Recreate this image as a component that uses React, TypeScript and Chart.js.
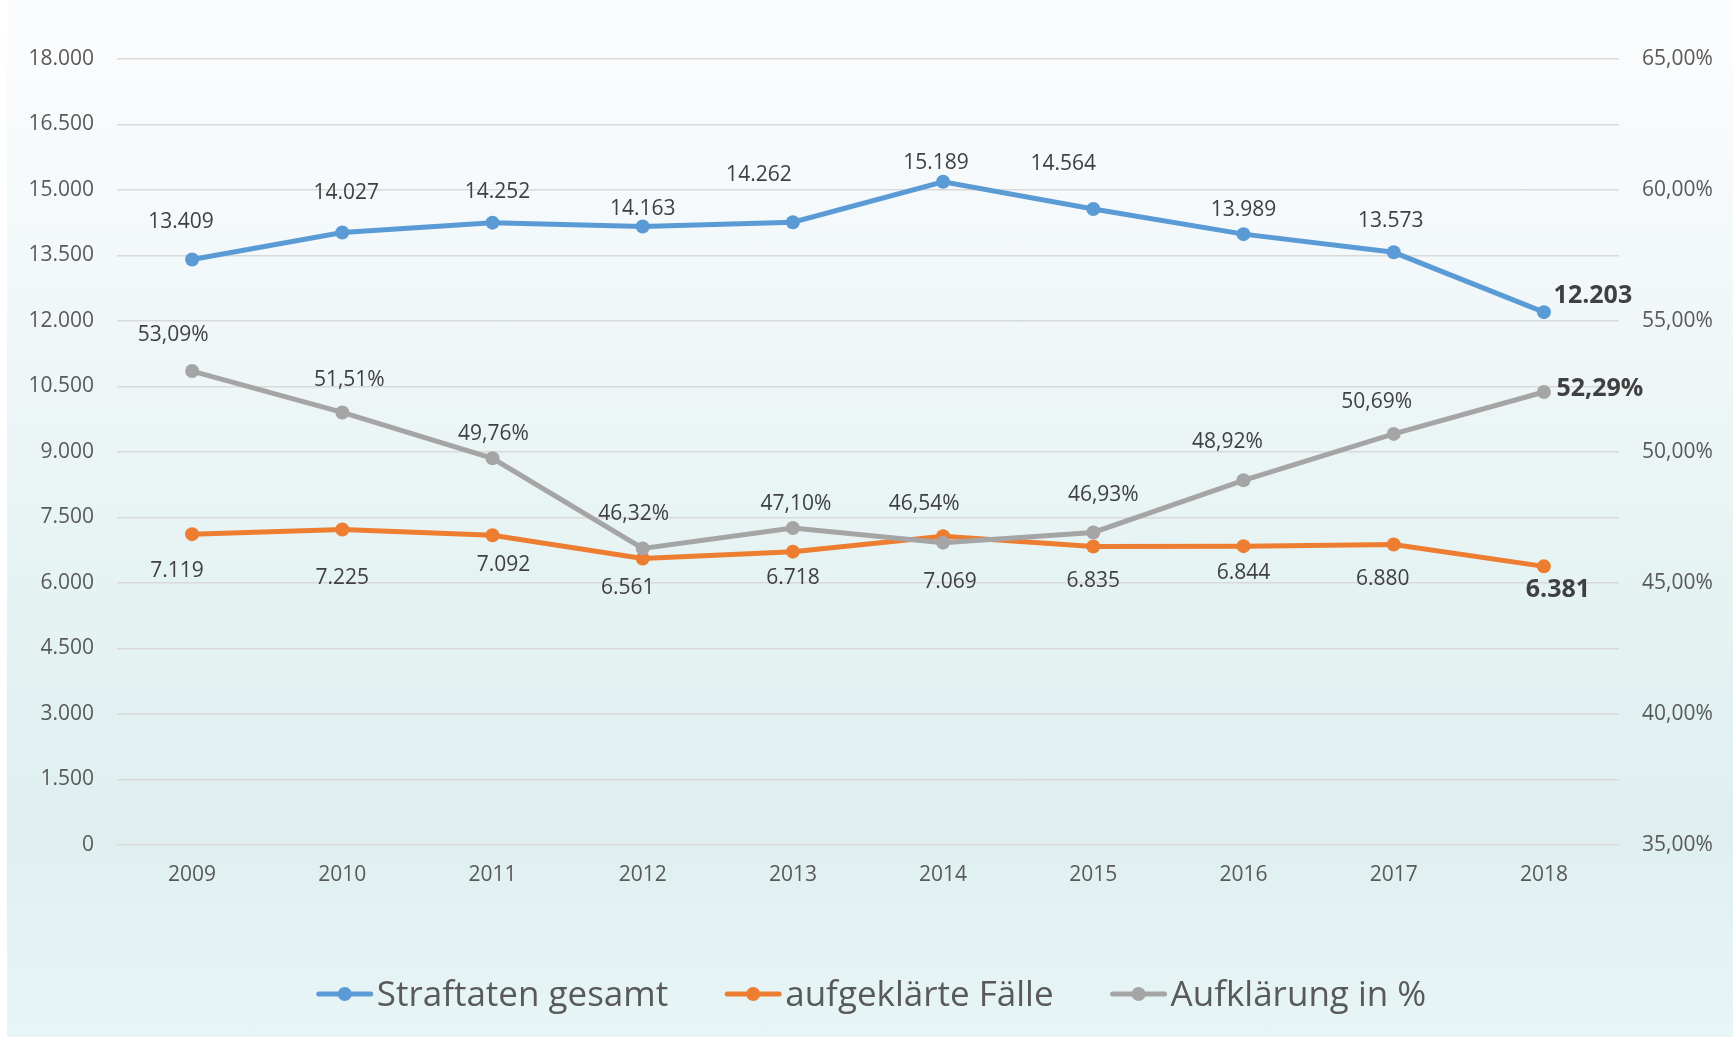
import React, { useEffect, useRef } from "react";
import { Chart, registerables } from "chart.js";

Chart.register(...registerables);

const years = ["2009", "2010", "2011", "2012", "2013", "2014", "2015", "2016", "2017", "2018"];
const straftatenGesamt = [13409, 14027, 14252, 14163, 14262, 15189, 14564, 13989, 13573, 12203];
const aufgeklaerteFaelle = [7119, 7225, 7092, 6561, 6718, 7069, 6835, 6844, 6880, 6381];
const aufklaerungProzent = [53.09, 51.51, 49.76, 46.32, 47.1, 46.54, 46.93, 48.92, 50.69, 52.29];

const seriesNames = ["Straftaten gesamt", "aufgeklärte Fälle", "Aufklärung in %"];
const seriesColors = ["#5b9bd5", "#ed7d31", "#a5a5a5"];

// label offsets (pixels, relative to the point) – styling only
const blueLabelDx = [-11, 4, 5, 0, -34, -7, -30, 0, -3, 49];
const blueLabelDy = [-39, -41, -32, -19, -49, -20, -47, -26, -33, -18];
const orangeLabelDx = [-15, 0, 11, -15, 0, 7, 0, 0, -11, 14];
const orangeLabelDy = [35, 47, 28, 28, 25, 44, 33, 25, 33, 22];
const greyLabelDx = [-19, 7, 1, -9, 3, -19, 10, -16, -17, 56];
const greyLabelDy = [-38, -34, -26, -36, -25, -40, -39, -40, -33, -5];

const FONT = '"Open Sans", "DejaVu Sans", sans-serif';

function fmtThousands(v: number): string {
  const s = Math.round(v).toString();
  return s.replace(/\B(?=(\d{3})+(?!\d))/g, ".");
}
function fmtPercent(v: number): string {
  return v.toFixed(2).replace(".", ",") + "%";
}

const labelOffsets = [
  { dx: blueLabelDx, dy: blueLabelDy, fmt: fmtThousands },
  { dx: orangeLabelDx, dy: orangeLabelDy, fmt: fmtThousands },
  { dx: greyLabelDx, dy: greyLabelDy, fmt: fmtPercent },
];

const dataLabelPlugin = {
  id: "dataLabels",
  afterDatasetsDraw(chart: any) {
    const ctx = chart.ctx;
    ctx.save();
    ctx.fillStyle = "#404040";
    ctx.textAlign = "center";
    ctx.textBaseline = "alphabetic";
    chart.data.datasets.forEach((ds: any, di: number) => {
      const meta = chart.getDatasetMeta(di);
      const cfg = labelOffsets[di];
      meta.data.forEach((pt: any, i: number) => {
        const last = i === ds.data.length - 1;
        const size = last ? 25 : 21;
        ctx.font = `${last ? "bold " : ""}${size}px ${FONT}`;
        const cx = pt.x + cfg.dx[i];
        const cy = pt.y + cfg.dy[i];
        ctx.fillText(cfg.fmt(ds.data[i]), cx, cy + 0.357 * size);
      });
    });
    ctx.restore();
  },
};

const legendPlugin = {
  id: "customLegend",
  afterDraw(chart: any) {
    const ctx = chart.ctx;
    ctx.save();
    ctx.font = `35px ${FONT}`;
    const lineLen = 56;
    const gapText = 4;
    const gapItem = 57;
    const widths = seriesNames.map((n) => ctx.measureText(n).width);
    const total =
      widths.reduce((a, w) => a + lineLen + gapText + w, 0) + gapItem * (seriesNames.length - 1);
    let x = 871.5 - total / 2;
    const lineY = 994;
    const baseY = 1006;
    seriesNames.forEach((n, i) => {
      ctx.strokeStyle = seriesColors[i];
      ctx.lineWidth = 5;
      ctx.lineCap = "round";
      ctx.beginPath();
      ctx.moveTo(x + 2, lineY);
      ctx.lineTo(x + lineLen - 2, lineY);
      ctx.stroke();
      ctx.fillStyle = seriesColors[i];
      ctx.beginPath();
      ctx.arc(x + lineLen / 2, lineY, 7, 0, Math.PI * 2);
      ctx.fill();
      ctx.fillStyle = "#595959";
      ctx.textAlign = "left";
      ctx.textBaseline = "alphabetic";
      ctx.fillText(n, x + lineLen + gapText, baseY);
      x += lineLen + gapText + widths[i] + gapItem;
    });
    ctx.restore();
  },
};

export default function App() {
  const ref = useRef<HTMLCanvasElement | null>(null);

  useEffect(() => {
    if (!ref.current) return;
    const makeDs = (label: string, data: number[], color: string, axis: string, order: number) => ({
      label,
      data,
      yAxisID: axis,
      borderColor: color,
      backgroundColor: color,
      borderWidth: 5,
      pointRadius: 7,
      pointHoverRadius: 7,
      pointBorderWidth: 0,
      pointBackgroundColor: color,
      tension: 0,
      order,
    });
    const chart = new Chart(ref.current, {
      type: "line",
      data: {
        labels: years,
        datasets: [
          makeDs(seriesNames[0], straftatenGesamt, seriesColors[0], "y", 0),
          makeDs(seriesNames[1], aufgeklaerteFaelle, seriesColors[1], "y", 2),
          makeDs(seriesNames[2], aufklaerungProzent, seriesColors[2], "y1", 1),
        ],
      },
      options: {
        responsive: false,
        animation: false,
        devicePixelRatio: 1,
        layout: { padding: { top: 59, left: 0, right: 0, bottom: 0 } },
        plugins: {
          legend: { display: false },
          tooltip: { enabled: false },
        },
        scales: {
          x: {
            offset: true,
            grid: { display: false, drawTicks: false, offset: true },
            border: { display: false },
            ticks: {
              color: "#595959",
              font: { family: FONT, size: 21 },
              padding: 17,
            },
            afterFit: (s: any) => {
              s.height = 192;
            },
          },
          y: {
            position: "left",
            min: 0,
            max: 18000,
            grid: { color: "#d9d9d9", lineWidth: 1.5, drawTicks: false },
            border: { display: false },
            ticks: {
              stepSize: 1500,
              padding: 23,
              color: "#595959",
              font: { family: FONT, size: 21 },
              callback: (v: any) => fmtThousands(Number(v)),
            },
            afterFit: (s: any) => {
              s.width = 117;
            },
          },
          y1: {
            position: "right",
            min: 35,
            max: 65,
            grid: { display: false, drawTicks: false },
            border: { display: false },
            ticks: {
              stepSize: 5,
              padding: 23,
              color: "#595959",
              font: { family: FONT, size: 21 },
              callback: (v: any) => fmtPercent(Number(v)),
            },
            afterFit: (s: any) => {
              s.width = 114;
            },
          },
        },
      },
      plugins: [dataLabelPlugin, legendPlugin],
    } as any);
    return () => chart.destroy();
  }, []);

  return (
    <div
      style={{
        position: "absolute",
        left: 0,
        top: 0,
        width: 1733,
        height: 1037,
        background: "#ffffff",
        overflow: "hidden",
      }}
    >
      <div
        style={{
          position: "absolute",
          left: 7,
          top: 0,
          width: 1726,
          height: 1037,
          background:
            "linear-gradient(to bottom, #fcfdfe 0%, #f1f7f9 30%, #e6f3f3 55%, #dfeff0 80%, #e8f5f6 100%)",
        }}
      />
      <canvas
        ref={ref}
        width={1733}
        height={1037}
        style={{ position: "absolute", left: 0, top: 0, width: 1733, height: 1037 }}
      />
    </div>
  );
}
